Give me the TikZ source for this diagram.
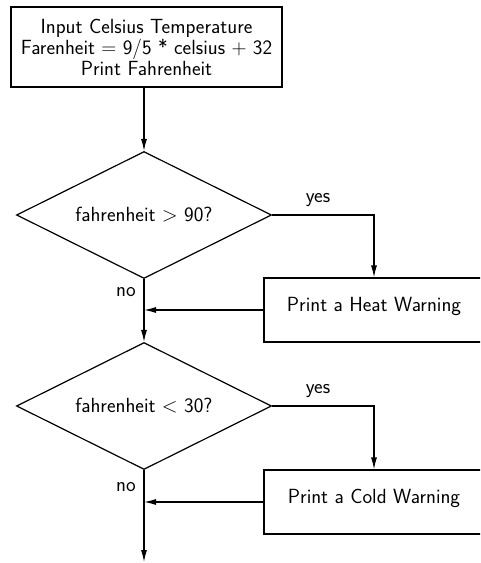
\documentclass[tikz,border=0pt]{standalone}
\usetikzlibrary{shapes.geometric,arrows.meta}
\begin{document}
\begin{tikzpicture}[x=1pt,y=-1pt,
  every node/.style={font=\fontsize{20.5}{21}\selectfont\sffamily},
  procbox/.style={draw,line width=1.2pt,rectangle,inner sep=0pt,align=center},
  decision/.style={draw,line width=1.2pt,diamond,aspect=2,inner sep=0pt,minimum width=255pt,minimum height=127pt},
  warnbox/.style={draw,line width=1.2pt,rectangle,inner sep=0pt,minimum width=220pt,minimum height=64pt,text height=13pt,text depth=11pt},
  flow/.style={line width=1.2pt,-{Latex[length=12pt,width=6pt]}},
  lbl/.style={inner sep=0pt}]
\useasboundingbox (0,0) rectangle (480,563);
\clip (0,0) rectangle (480,563);
\node[procbox,minimum width=271pt,minimum height=80pt] (start) at (146.5,47)
  {Input Celsius Temperature\\Farenheit $=$ 9/5 * celsius $+$ 32\\Print Fahrenheit};
\node[decision] (d1) at (144,215) {fahrenheit $>$ 90?};
\node[warnbox] (heat) at (374,310) {Print a Heat Warning};
\node[decision] (d2) at (144,406) {fahrenheit $<$ 30?};
\node[warnbox] (cold) at (374,502) {Print a Cold Warning};
\coordinate (end) at (144,562);
\node[lbl] (yes1) at (318,200) {yes};
\node[lbl] (no1) at (126,292) {no};
\node[lbl] (yes2) at (318,391) {yes};
\node[lbl] (no2) at (126,487) {no};
\draw[flow] (start.south -| d1.north) -- (d1.north);
\draw[flow] (d1.east) -| (heat.north);
\draw[flow] (d1.south) -- (d2.north);
\draw[flow] (heat.west) -- (heat.west -| d1.south);
\draw[flow] (d2.east) -| (cold.north);
\draw[flow] (d2.south) -- (end);
\draw[flow] (cold.west) -- (cold.west -| d2.south);
\end{tikzpicture}
\end{document}
